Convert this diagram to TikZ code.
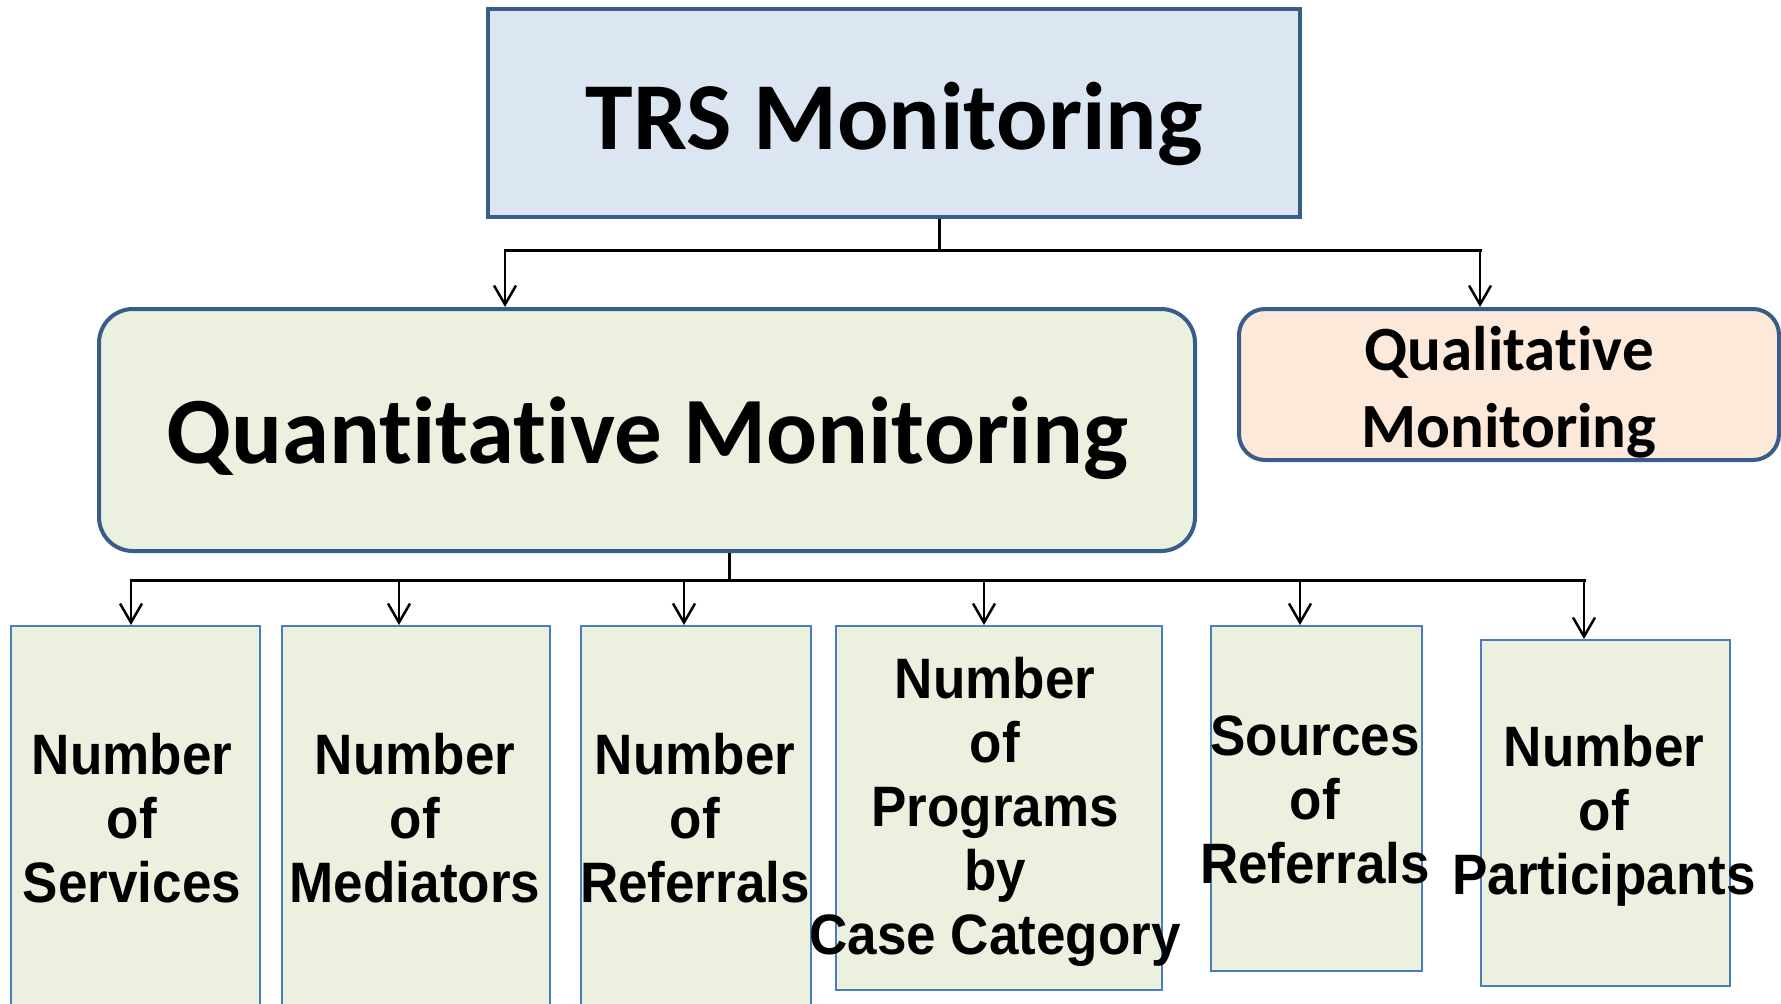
\documentclass[tikz,border=0pt]{standalone}
\usepackage{fontspec}
\usetikzlibrary{arrows.meta}
\newfontfamily\calfont{Carlito}[Ligatures={NoCommon}]
\newfontfamily\narrowfont{Liberation Sans}[FakeStretch=0.93]
\definecolor{bordblue}{HTML}{385D8A}
\definecolor{thinblue}{HTML}{4A7EBB}
\definecolor{topfill}{HTML}{DCE6F2}
\definecolor{greenfill}{HTML}{EBF1DE}
\definecolor{orangefill}{HTML}{FDE9D9}
\begin{document}
\begin{tikzpicture}[x=1pt,y=-1pt,
  topbox/.style={draw=bordblue, line width=4pt, fill=topfill, inner sep=0pt},
  quantbox/.style={draw=bordblue, line width=4pt, fill=greenfill, rounded corners=34pt, inner sep=0pt},
  qualbox/.style={draw=bordblue, line width=4pt, fill=orangefill, rounded corners=26pt, inner sep=0pt},
  bigtext/.style={inner sep=0pt, font=\calfont\bfseries\fontsize{96}{110}\selectfont},
  midtext/.style={inner sep=0pt, align=center, font=\calfont\bfseries\fontsize{63}{77}\selectfont},
  leafbox/.style={draw=thinblue, line width=2pt, fill=greenfill, inner sep=0pt, anchor=north west},
  leaftext/.style={align=center, inner sep=0pt, font=\narrowfont\bfseries\fontsize{57}{64}\selectfont},
  conn/.style={line width=3pt},
  arr/.style={line width=2.5pt, -{Straight Barb[length=19pt,width=22pt]}}
]
\clip (0,0) rectangle (1781,1004);
\fill[white] (0,0) rectangle (1781,1004);

% top level
\node[topbox, minimum width=812pt, minimum height=208pt] (trs) at (894,113) {};
\node[bigtext] (trst) at (894,124) {TRS Monitoring};
\node[quantbox, minimum width=1096pt, minimum height=242pt] (quant) at (647,430) {};
\node[bigtext, font=\calfont\bfseries\fontsize{95}{110}\selectfont] (quantt) at (647,438) {Quantitative Monitoring};
\node[qualbox, minimum width=540pt, minimum height=151pt] (qual) at (1509,384.5) {};
\node[midtext] (qualt) at (1509,392.5) {Qualitative\\Monitoring};

% leaf boxes
\node[leafbox, minimum width=249pt, minimum height=400pt] (b1) at (10,625) {};
\node[leafbox, minimum width=268pt, minimum height=400pt] (b2) at (281,625) {};
\node[leafbox, minimum width=230pt, minimum height=400pt] (b3) at (580,625) {};
\node[leafbox, minimum width=326pt, minimum height=364pt] (b4) at (835,625) {};
\node[leafbox, minimum width=211pt, minimum height=345pt] (b5) at (1210,625) {};
\node[leafbox, minimum width=249pt, minimum height=346pt] (b6) at (1480,639) {};

\node[leaftext] (t1) at (132,818) {Number\\of\\Services};
\node[leaftext] (t2) at (415,818) {Number\\of\\Mediators};
\node[leaftext] (t3) at (695,818) {Number\\of\\Referrals};
\node[leaftext] (t4) at (995,812) {Number\\of\\Programs\\by\\Case Category};
\node[leaftext] (t5) at (1315,800) {Sources\\of\\Referrals};
\node[leaftext] (t6) at (1604,816) {Number\\of\\Participants};

% first level connectors
\coordinate (j1) at (939,250);
\coordinate (hL) at (505,250);
\coordinate (hR) at (1480,250);
\draw[conn] (trs.south -| j1) -- (j1);
\draw[conn, line cap=rect] (hL) -- (hR);
\draw[arr] (hL) -- (hL |- quant.north);
\draw[arr] (hR) -- (hR |- qual.north);

% second level connectors
\coordinate (j2) at (729,580);
\coordinate (a1) at (131,580);
\coordinate (a2) at (399,580);
\coordinate (a3) at (684,580);
\coordinate (a4) at (984,580);
\coordinate (a5) at (1300,580);
\coordinate (a6) at (1584,580);
\draw[conn] (quant.south -| j2) -- (j2);
\draw[conn, line cap=rect] (a1) -- (a6);
\draw[arr] (a1) -- (a1 |- b1.north);
\draw[arr] (a2) -- (a2 |- b2.north);
\draw[arr] (a3) -- (a3 |- b3.north);
\draw[arr] (a4) -- (a4 |- b4.north);
\draw[arr] (a5) -- (a5 |- b5.north);
\draw[arr] (a6) -- (a6 |- b6.north);
\end{tikzpicture}
\end{document}
